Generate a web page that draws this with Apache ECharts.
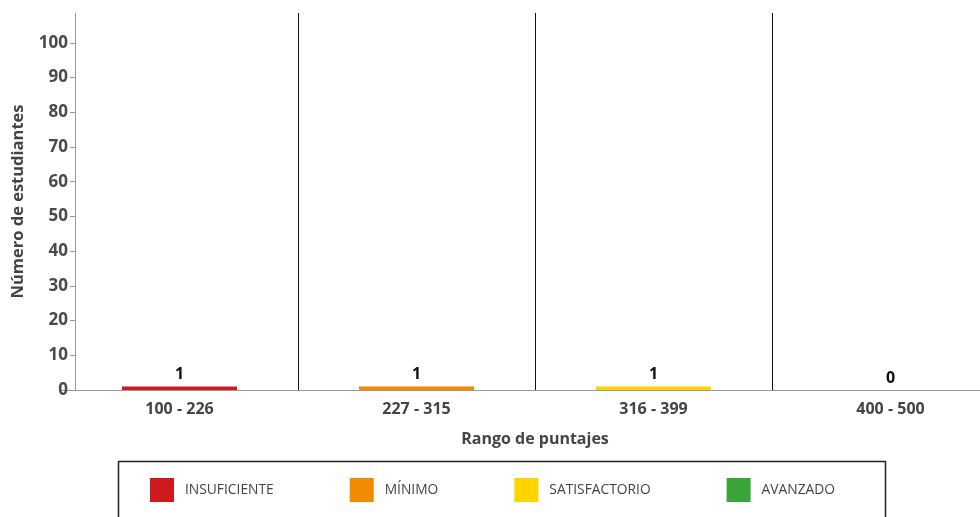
<!DOCTYPE html>
<html>
<head>
<meta charset="utf-8">
<script src="https://cdn.jsdelivr.net/npm/echarts@6/dist/echarts.min.js"></script>
<style>
  html, body { margin: 0; padding: 0; background: #fff; }
  #chart { width: 980px; height: 517px; }
</style>
</head>
<body>
<div id="chart"></div>
<script>
// datos del gráfico
const rangos = ['100 - 226', '227 - 315', '316 - 399', '400 - 500']
const niveles = ['INSUFICIENTE', 'MÍNIMO', 'SATISFACTORIO', 'AVANZADO']
const colores = ['#d0191c', '#f28a00', '#ffd500', '#3aa63a']
const estudiantes = [1, 1, 1, 0]

const fuente = 'Open Sans'

const chart = echarts.init(document.getElementById('chart'))

// una serie por nivel, cada una solo en su rango
const series = niveles.map((nombre, i) => ({
  name: nombre,
  type: 'bar',
  barWidth: 115,
  barGap: '-100%',
  data: rangos.map((r, j) => (j === i ? estudiantes[i] : '-')),
  itemStyle: { color: colores[i] },
  label: {
    show: true,
    position: 'top',
    distance: 4,
    color: '#111',
    fontFamily: fuente,
    fontWeight: 'bold',
    fontSize: 16
  }
}))

const option = {
  animation: false,
  grid: {
    left: 61,
    top: 13,
    width: 948,
    bottom: 127,
    outerBoundsMode: 'none'
  },
  xAxis: {
    type: 'category',
    data: rangos,
    name: 'Rango de puntajes',
    nameLocation: 'middle',
    nameGap: 41,
    nameTextStyle: {
      color: '#444',
      fontFamily: fuente,
      fontWeight: 'bold',
      fontSize: 16
    },
    axisLine: { lineStyle: { color: '#999', width: 1 } },
    axisTick: { alignWithLabel: true, length: 4, lineStyle: { color: '#999' } },
    axisLabel: {
      color: '#444',
      fontFamily: fuente,
      fontWeight: 'bold',
      fontSize: 16,
      margin: 11
    },
    splitLine: {
      show: true,
      showMinLine: false,
      lineStyle: { color: '#111', width: 1 }
    }
  },
  yAxis: {
    type: 'value',
    min: 0,
    max: 108.6,
    interval: 10,
    offset: -14,
    name: 'Número de estudiantes',
    nameLocation: 'middle',
    nameGap: 48,
    nameTextStyle: {
      color: '#444',
      fontFamily: fuente,
      fontWeight: 'bold',
      fontSize: 16.5
    },
    axisLine: { show: true, lineStyle: { color: '#999', width: 1 } },
    axisTick: { show: true, length: 5, lineStyle: { color: '#999' } },
    axisLabel: {
      showMaxLabel: false,
      color: '#4a4a4a',
      fontFamily: fuente,
      fontWeight: 'bold',
      fontSize: 17,
      margin: 7
    },
    splitLine: { show: false }
  },
  legend: {
    data: niveles,
    left: 150,
    top: 478,
    padding: 0,
    icon: 'rect',
    itemWidth: 24,
    itemHeight: 24,
    itemGap: 76,
    selectedMode: false,
    textStyle: {
      color: '#444',
      fontFamily: fuente,
      fontSize: 13.8,
      padding: [0, 0, 0, 6]
    }
  },
  graphic: [
    {
      type: 'rect',
      left: 116,
      top: 459,
      shape: { width: 767, height: 80 },
      style: { fill: 'none', stroke: '#222', lineWidth: 1.5 }
    }
  ],
  series: series
}

chart.setOption(option)
</script>
</body>
</html>
